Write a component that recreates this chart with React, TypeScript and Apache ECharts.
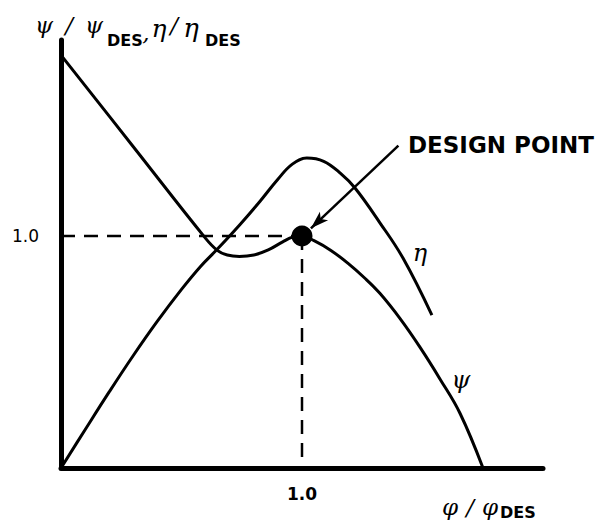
import React, { useEffect, useRef } from 'react';
import * as echarts from 'echarts';

// Normalised head coefficient ψ/ψ_DES against normalised flow φ/φ_DES
const psiCurve: [number, number][] = [
  [0, 1.78], [0.3, 1.385], [0.6, 0.99], [0.65, 0.937], [0.69, 0.918],
  [0.74, 0.912], [0.8, 0.918], [0.86, 0.94], [0.92, 0.975], [0.96, 0.995],
  [1.0, 1.0], [1.05, 0.98], [1.12, 0.938], [1.19, 0.883], [1.26, 0.819],
  [1.324, 0.752], [1.407, 0.644], [1.49, 0.52], [1.573, 0.383], [1.656, 0.235],
  [1.751, 0],
];

// Normalised efficiency η/η_DES against normalised flow
const etaCurve: [number, number][] = [
  [0, 0], [0.1, 0.165], [0.2, 0.328], [0.3, 0.485], [0.4, 0.633],
  [0.5, 0.77], [0.58, 0.87], [0.65, 0.945], [0.743, 1.05], [0.826, 1.15],
  [0.9, 1.245], [0.96, 1.31], [1.02, 1.336], [1.09, 1.322], [1.16, 1.27], [1.22, 1.207],
  [1.324, 1.056], [1.419, 0.905], [1.539, 0.659],
];

const designPoint: [number, number] = [1.0, 1.0];
const arrowFrom: [number, number] = [1.4, 1.39];
const arrowTo: [number, number] = [1.037, 1.033];

const tickValues = [1.0];
const tickLabels = ['1.0'];

const greek = (size: number) => `italic ${size}px "DejaVu Serif"`;
const caps = (size: number) => `bold ${size}px "DejaVu Sans"`;

function tickFormatter(v: number): string {
  const i = tickValues.findIndex((t) => Math.abs(t - v) < 1e-9);
  return i >= 0 ? tickLabels[i] : '';
}

function txt(x: number, y: number, text: string, font: string, align = 'center') {
  return {
    type: 'text',
    x,
    y,
    silent: true,
    style: { text, font, fill: '#000', align, verticalAlign: 'middle' },
  };
}

export default function App() {
  const ref = useRef<HTMLDivElement>(null);

  useEffect(() => {
    if (!ref.current) return;
    const chart = echarts.init(ref.current, null, { renderer: 'svg' });
    const black = '#000';

    chart.setOption({
      animation: false,
      backgroundColor: '#fff',
      grid: { left: 61, top: 40, width: 482, height: 428, containLabel: false },
      xAxis: {
        type: 'value',
        min: 0,
        max: 2,
        interval: 1,
        splitLine: { show: false },
        axisTick: { show: false },
        axisLine: { show: true, onZero: false, lineStyle: { color: black, width: 5, cap: 'round' } },
        axisLabel: {
          formatter: tickFormatter,
          margin: 17,
          color: black,
          fontFamily: 'DejaVu Sans',
          fontWeight: 'bold',
          fontSize: 17,
          showMinLabel: false,
          showMaxLabel: false,
        },
      },
      yAxis: {
        type: 'value',
        min: 0,
        max: 1.845,
        interval: 1,
        splitLine: { show: false },
        axisTick: { show: false },
        axisLine: { show: true, onZero: false, lineStyle: { color: black, width: 5, cap: 'round' } },
        axisLabel: {
          formatter: tickFormatter,
          margin: 22,
          color: black,
          fontFamily: 'DejaVu Sans',
          fontSize: 17,
          padding: [5, 0, 0, 0],
          showMinLabel: false,
          showMaxLabel: false,
        },
      },
      series: [
        {
          name: 'ψ',
          type: 'line',
          data: psiCurve,
          smooth: 0.4,
          showSymbol: false,
          lineStyle: { color: black, width: 3 },
          silent: true,
        },
        {
          name: 'η',
          type: 'line',
          data: etaCurve,
          smooth: 0.4,
          showSymbol: false,
          lineStyle: { color: black, width: 3 },
          silent: true,
        },
        {
          name: 'guide-h',
          type: 'line',
          data: [[0, designPoint[1]], designPoint],
          showSymbol: false,
          lineStyle: { color: black, width: 2.5, type: [14, 9] },
          silent: true,
        },
        {
          name: 'guide-v',
          type: 'line',
          data: [designPoint, [designPoint[0], 0]],
          showSymbol: false,
          lineStyle: { color: black, width: 2.5, type: [14, 9] },
          silent: true,
        },
        {
          name: 'design point',
          type: 'scatter',
          data: [designPoint],
          symbolSize: 21,
          itemStyle: { color: black, opacity: 1 },
          silent: true,
          z: 5,
          markLine: {
            silent: true,
            symbol: ['none', 'arrow'],
            symbolSize: [9, 18],
            label: { show: false },
            lineStyle: { color: black, width: 2.5, type: 'solid', opacity: 1 },
            data: [[{ coord: arrowFrom }, { coord: arrowTo }]],
          },
        },
      ],
      graphic: [
        // vertical axis title: ψ / ψDES, η/ηDES
        txt(44, 25, 'ψ', greek(23)),
        txt(69, 25, '/', greek(23)),
        txt(94, 25, 'ψ', greek(23)),
        txt(107, 40, 'DES', caps(16), 'left'),
        txt(146, 33, ',', greek(23)),
        txt(159, 28, 'η', greek(25)),
        txt(174, 25, '/', greek(23)),
        txt(191, 28, 'η', greek(26)),
        txt(205, 40, 'DES', caps(16), 'left'),
        // horizontal axis title: φ / φDES
        txt(450, 507, 'φ', greek(23)),
        txt(470, 507, '/', greek(23)),
        txt(490, 507, 'φ', greek(23)),
        txt(500, 512, 'DES', caps(16), 'left'),
        // curve names
        txt(420, 253, 'η', greek(24)),
        txt(461, 380, 'ψ', greek(24)),
        // annotation
        txt(408, 145, 'DESIGN POINT', caps(23), 'left'),
      ],
    });

    return () => chart.dispose();
  }, []);

  return (
    <div
      ref={ref}
      style={{ position: 'fixed', left: 0, top: 0, width: 608, height: 531, background: '#fff' }}
    />
  );
}
